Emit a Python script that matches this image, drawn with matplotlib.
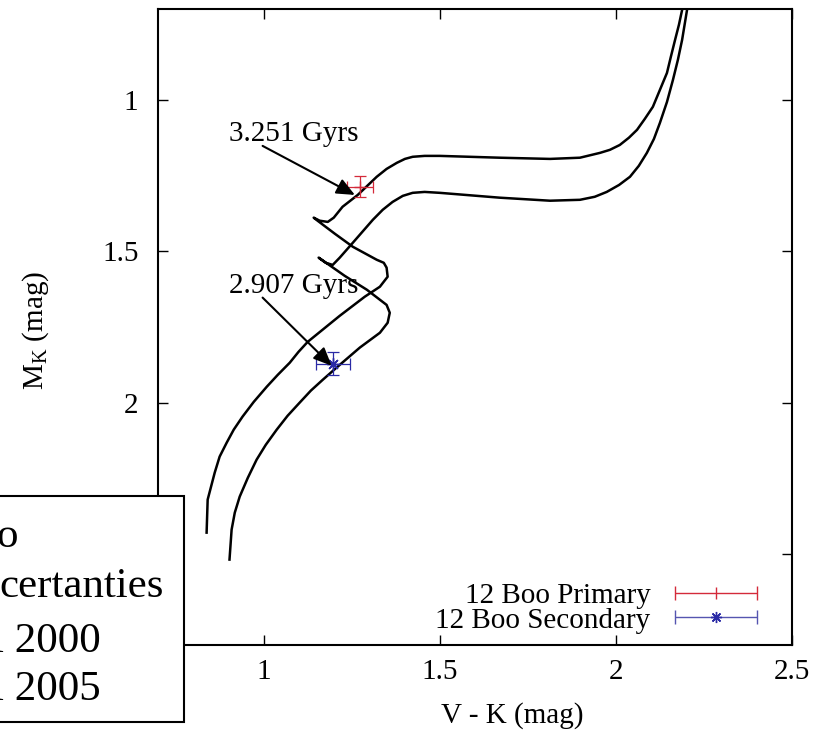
import numpy as np
import matplotlib
matplotlib.use("Agg")
import matplotlib.pyplot as plt
from matplotlib.patches import Rectangle
from matplotlib.container import ErrorbarContainer
from matplotlib.legend_handler import HandlerErrorbar

plt.rcParams['font.family'] = ['Liberation Serif', 'DejaVu Serif']
plt.rcParams['mathtext.fontset'] = 'custom'
plt.rcParams['mathtext.rm'] = 'Liberation Serif'
plt.rcParams['mathtext.it'] = 'Liberation Serif:italic'

# Isochrone tracks (V-K, M_K)
iso_upper_vk = [0.838, 0.841, 0.861, 0.875, 0.895, 0.915, 0.940, 0.972, 1.009, 1.040,
                1.074, 1.099, 1.125, 1.216, 1.287, 1.330, 1.352, 1.349, 1.341, 1.321,
                1.253, 1.202, 1.153, 1.142, 1.159, 1.182, 1.199, 1.224, 1.267, 1.321,
                1.349, 1.378, 1.401, 1.423, 1.457, 1.500, 1.670, 1.813, 1.898, 1.955,
                1.983, 2.011, 2.037, 2.060, 2.082, 2.105, 2.125, 2.145, 2.156, 2.168,
                2.179, 2.188, 2.196]
iso_upper_mk = [2.429, 2.320, 2.231, 2.178, 2.132, 2.089, 2.046, 1.997, 1.947, 1.908,
                1.868, 1.832, 1.799, 1.713, 1.650, 1.617, 1.584, 1.554, 1.538, 1.528,
                1.485, 1.442, 1.399, 1.389, 1.399, 1.403, 1.389, 1.353, 1.314, 1.254,
                1.228, 1.208, 1.195, 1.188, 1.185, 1.185, 1.191, 1.195, 1.191, 1.175,
                1.165, 1.149, 1.125, 1.099, 1.063, 1.023, 0.967, 0.911, 0.858, 0.802,
                0.752, 0.703, 0.653]

iso_lower_vk = [0.903, 0.909, 0.918, 0.932, 0.955, 0.980, 1.006, 1.037, 1.068, 1.102,
                1.134, 1.168, 1.207, 1.273, 1.330, 1.352, 1.358, 1.349, 1.293, 1.230,
                1.165, 1.156, 1.176, 1.196, 1.216, 1.253, 1.310, 1.338, 1.366, 1.395,
                1.423, 1.457, 1.500, 1.670, 1.813, 1.898, 1.940, 1.974, 2.009, 2.040,
                2.065, 2.088, 2.108, 2.125, 2.145, 2.162, 2.176, 2.188, 2.202, 2.210]
iso_lower_mk = [2.518, 2.419, 2.363, 2.310, 2.248, 2.188, 2.139, 2.089, 2.043, 2.000,
                1.960, 1.924, 1.884, 1.818, 1.769, 1.736, 1.703, 1.677, 1.627, 1.581,
                1.528, 1.521, 1.538, 1.545, 1.521, 1.472, 1.396, 1.363, 1.337, 1.317,
                1.307, 1.304, 1.307, 1.323, 1.333, 1.330, 1.320, 1.304, 1.281, 1.254,
                1.218, 1.175, 1.129, 1.076, 1.007, 0.934, 0.868, 0.802, 0.703, 0.653]

# 12 Boo components: V-K, M_K and uncertainties
star_names = ['12 Boo Primary', '12 Boo Secondary']
star_vk = [1.273, 1.196]
star_mk = [1.287, 1.871]
star_vk_err = [0.037, 0.048]
star_mk_err = [0.035, 0.038]
star_colors = ['#d42a3a', '#2a2aa6']
legend_bar_colors = ['#d42a3a', '#5555b0']
star_markers = ['+', (8, 2, 0)]
legend_markers = ['|', (8, 2, 0)]

# Age labels: text anchor, arrow tail and arrow tip
age_labels = ['3.251 Gyrs', '2.907 Gyrs']
age_text_xy = [(0.901, 1.135), (0.901, 1.637)]
age_arrow_tail = [(0.997, 1.152), (0.997, 1.653)]
age_arrow_tip = [(1.259, 1.314), (1.193, 1.878)]

xticks = [1, 1.5, 2, 2.5]
xtick_labels = ['1', '1.5', '2', '2.5']
yticks = [1, 1.5, 2, 2.5]
ytick_labels = ['1', '1.5', '2', '2.5']

overlay_lines = ['o', 'certanties', 'l 2000', 'l 2005']

FS = 21

W, H = 828, 737
fig = plt.figure(figsize=(W / 100, H / 100), dpi=100)
ax = fig.add_axes([158 / W, 1 - 645 / H, (792 - 158) / W, (645 - 9) / H])

ax.plot(iso_upper_vk, iso_upper_mk, color='black', lw=1.8, zorder=2,
        solid_joinstyle='round')
ax.plot(iso_lower_vk, iso_lower_mk, color='black', lw=1.8, zorder=2,
        solid_joinstyle='round')

proxies = []
for i in range(len(star_names)):
    ax.errorbar([star_vk[i]], [star_mk[i]], xerr=[star_vk_err[i]], yerr=[star_mk_err[i]],
                fmt='none', ecolor=star_colors[i], elinewidth=0.9, capsize=4,
                capthick=0.9, zorder=3)
    ax.plot([star_vk[i]], [star_mk[i]], linestyle='none', marker=star_markers[i],
            color=star_colors[i], ms=9, mew=1.0, zorder=4)
    # legend sample: horizontal bar only
    p = ax.errorbar([np.nan], [np.nan], xerr=[0.0], fmt='', linestyle='none',
                    marker=legend_markers[i], color=star_colors[i],
                    ecolor=legend_bar_colors[i], elinewidth=1.0, capsize=5,
                    capthick=1.0, ms=8, mew=1.0, label=star_names[i])
    proxies.append(p)

for lab, txy, tail, tip in zip(age_labels, age_text_xy, age_arrow_tail, age_arrow_tip):
    ax.text(txy[0], txy[1], lab, fontsize=FS, ha='left', va='baseline', zorder=5)
    ax.annotate('', xy=tip, xytext=tail,
                arrowprops=dict(arrowstyle='-|>,head_length=0.5,head_width=0.22',
                                color='black', lw=1.5, mutation_scale=22,
                                shrinkA=0, shrinkB=0),
                zorder=5)

ax.set_xlim(0.7, 2.5)
ax.set_ylim(2.8, 0.7)
ax.set_xticks(xticks)
ax.set_xticklabels(xtick_labels)
ax.set_yticks(yticks)
ax.set_yticklabels(ytick_labels)
ax.tick_params(direction='in', length=7, width=1.0, top=True, right=True,
               labelsize=FS)
ax.tick_params(axis='x', pad=10)
ax.tick_params(axis='y', pad=14)
for s in ax.spines.values():
    s.set_linewidth(1.5)

ax.set_xlabel('V - K (mag)', fontsize=FS)
ax.xaxis.set_label_coords(0.558, -0.09)
ax.set_ylabel(r'M$_{\rm K}$ (mag)', fontsize=FS)
ax.yaxis.set_label_coords(-0.168, 0.495)

hm = {ErrorbarContainer: HandlerErrorbar(xerr_size=1.4)}
leg = ax.legend(handles=proxies, loc='lower right', bbox_to_anchor=(0.945, 0.018),
                frameon=False, fontsize=FS, markerfirst=False, handlelength=2.8,
                handletextpad=0.85, labelspacing=-0.08, borderpad=0, borderaxespad=0,
                handler_map=hm)

# Overlapping key box at the lower left
box = Rectangle((-6 / W, 1 - 722 / H), (184 + 6) / W, (722 - 496) / H,
                transform=fig.transFigure, facecolor='white', edgecolor='black',
                lw=1.5, zorder=10)
fig.add_artist(box)
line_x = [-4, -1, -8, -8]
line_base = [547, 597, 652, 700]
for txt, lx, by in zip(overlay_lines, line_x, line_base):
    fig.text(lx / W, 1 - by / H, txt, fontsize=31, ha='left', va='baseline', zorder=11)

fig.savefig('out.png', dpi=100)
